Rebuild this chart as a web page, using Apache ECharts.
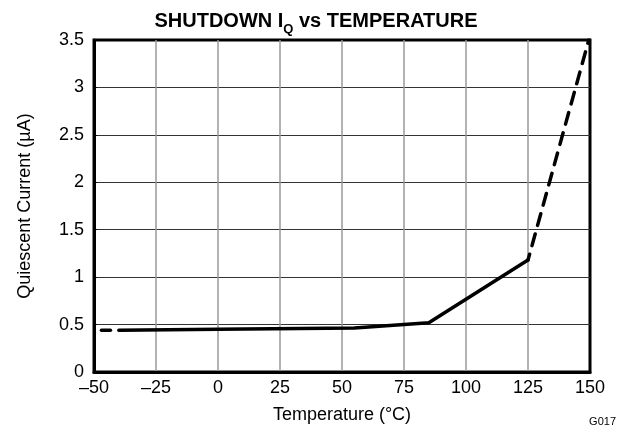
<!DOCTYPE html>
<html>
<head>
<meta charset="utf-8">
<script src="https://cdn.jsdelivr.net/npm/echarts@6/dist/echarts.min.js"></script>
<style>
  html, body { margin: 0; padding: 0; background: #fff; }
  #chart { width: 623px; height: 429px; }
</style>
</head>
<body>
<div id="chart"></div>
<script>
// solid part, -40 .. 125 °C
let solidTemp = [-40, 0, 55, 85, 125];
let solidIq = [0.44, 0.45, 0.465, 0.52, 1.18];
// dashed extrapolations at both ends
let lowTemp = [-47, -40];
let lowIq = [0.44, 0.44];
let highTemp = [125, 149.5];
let highIq = [1.18, 3.5];

let font = 'Liberation Sans, Arial, sans-serif';

function pairs(xs, ys) {
    let out = [];
    for (let i = 0; i < xs.length; i++) {
        out.push([xs[i], ys[i]]);
    }
    return out;
}

let myChart = echarts.init(document.getElementById('chart'));

let option = {
    animation: false,
    backgroundColor: '#fff',
    title: {
        text: '{a|SHUTDOWN I}{s|Q}{a| vs TEMPERATURE}',
        left: 311,
        textAlign: 'center',
        top: 0,
        textStyle: {
            rich: {
                a: {fontFamily: font, fontWeight: 'bold', fontSize: 20, color: '#000', lineHeight: 26, verticalAlign: 'bottom'},
                s: {fontFamily: font, fontWeight: 'bold', fontSize: 13, color: '#000', lineHeight: 26, verticalAlign: 'bottom', padding: [0, 0, -5, 0]}
            }
        }
    },
    graphic: [
        {
            type: 'text',
            right: 7,
            top: 416,
            style: {text: 'G017', font: '11px ' + font, fill: '#000'}
        }
    ],
    grid: {
        left: 94,
        right: 33,
        top: 40,
        bottom: 55,
        show: true,
        borderColor: '#000',
        borderWidth: 3
    },
    xAxis: {
        type: 'value',
        min: -50,
        max: 150,
        interval: 25,
        name: 'Temperature (°C)',
        nameLocation: 'middle',
        nameGap: 34,
        nameTextStyle: {fontFamily: font, fontSize: 18, color: '#000'},
        axisLine: {show: true, onZero: false, lineStyle: {color: '#000', width: 3}},
        axisTick: {show: false},
        axisLabel: {
            fontFamily: font, fontSize: 18, color: '#000', margin: 7,
            formatter: v => String(v).replace('-', '\u2013')
        },
        splitLine: {show: true, showMinLine: false, showMaxLine: false, lineStyle: {color: '#999', width: 1.5}}
    },
    yAxis: {
        type: 'value',
        min: 0,
        max: 3.5,
        interval: 0.5,
        name: 'Quiescent Current (µA)',
        nameLocation: 'middle',
        nameGap: 60,
        nameTextStyle: {fontFamily: font, fontSize: 18, color: '#000'},
        axisLine: {show: true, onZero: false, lineStyle: {color: '#000', width: 3}},
        axisTick: {show: true, inside: true, length: 3, lineStyle: {color: '#000'}},
        axisLabel: {fontFamily: font, fontSize: 18, color: '#000', margin: 10},
        splitLine: {show: true, showMinLine: false, showMaxLine: false, lineStyle: {color: '#333', width: 1}}
    },
    series: [
        {
            type: 'line',
            data: pairs(solidTemp, solidIq),
            symbol: 'none',
            lineStyle: {color: '#000', width: 3.5, cap: 'round', join: 'round'}
        },
        {
            type: 'line',
            data: pairs(lowTemp, lowIq),
            symbol: 'none',
            lineStyle: {color: '#000', width: 3.5, type: [9, 11], cap: 'round'}
        },
        {
            type: 'line',
            data: pairs(highTemp, highIq),
            symbol: 'none',
            lineStyle: {color: '#000', width: 3.5, type: [12, 9], dashOffset: 6, cap: 'round'}
        }
    ]
};

myChart.setOption(option);
</script>
</body>
</html>
